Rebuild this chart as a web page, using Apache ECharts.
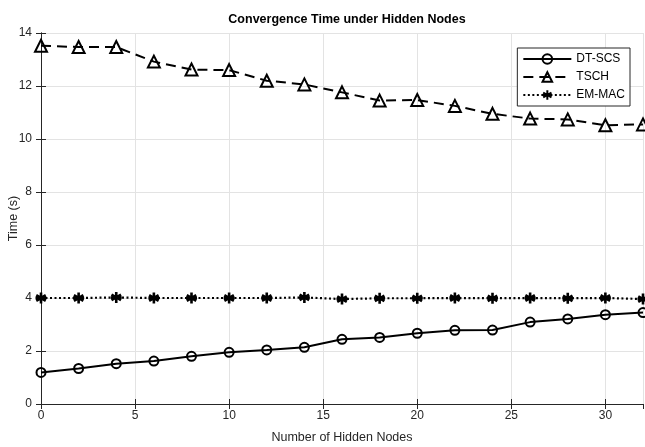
<!DOCTYPE html>
<html>
<head>
<meta charset="utf-8">
<script src="https://cdn.jsdelivr.net/npm/echarts@6/dist/echarts.min.js"></script>
<style>
html,body{margin:0;padding:0;background:#fff;}
#c{width:645px;height:447px;}
</style>
</head>
<body>
<div id="c"></div>
<script>
var nodes = [0,2,4,6,8,10,12,14,16,18,20,22,24,26,28,30,32];
var dtscs = [1.19,1.34,1.52,1.62,1.80,1.95,2.04,2.14,2.44,2.51,2.67,2.78,2.79,3.09,3.21,3.37,3.45];
var tsch  = [13.52,13.47,13.47,12.92,12.62,12.60,12.20,12.06,11.76,11.45,11.47,11.25,10.95,10.77,10.74,10.52,10.55];
var emmac = [4.00,4.00,4.02,4.00,4.00,4.00,4.00,4.02,3.96,3.99,3.99,4.00,3.99,4.00,3.99,4.00,3.96];
var seriesNames = ['DT-SCS','TSCH','EM-MAC'];
var titleText = 'Convergence Time under Hidden Nodes';
var xName = 'Number of Hidden Nodes';
var yName = 'Time (s)';

function pairs(ys){ return nodes.map(function(x,i){ return [x, ys[i]]; }); }

var FONT = "'Liberation Sans', Arial, Helvetica, sans-serif";
var AX = '#262626';
var asterisk = 'path://M5,0 L5,10 M0.67,2.5 L9.33,7.5 M0.67,7.5 L9.33,2.5 M0,5 L10,5';

var chart = echarts.init(document.getElementById('c'), null, {renderer:'canvas'});
var axisCommon = {
  axisLine:{show:true, lineStyle:{color:AX, width:1}},
  axisTick:{show:true, inside:true, length:5, lineStyle:{color:AX, width:1}}
};
chart.setOption({
  animation:false,
  backgroundColor:'#fff',
  title:{text:titleText, left:342, textAlign:'center', top:8,
    textStyle:{fontFamily:FONT, fontSize:12.5, fontWeight:'bold', color:'#000'}},
  grid:{left:41, right:2, top:33, bottom:43, containLabel:false, outerBoundsMode:'none'},
  legend:{
    orient:'vertical', right:15, top:48,
    padding:[5,5,5,5], itemGap:6, itemWidth:48, itemHeight:12,
    backgroundColor:'#fff', borderColor:AX, borderWidth:1,
    textStyle:{fontFamily:FONT, fontSize:12, color:'#000'},
    data:seriesNames
  },
  xAxis:[
    Object.assign({type:'value', min:0, max:32, interval:5, position:'bottom',
      name:xName, nameLocation:'middle', nameGap:27, nameMoveOverlap:false,
      nameTextStyle:{fontFamily:FONT, fontSize:12.5, color:AX},
      axisLabel:{fontFamily:FONT, fontSize:12, color:AX, margin:6, showMaxLabel:false},
      splitLine:{show:true, lineStyle:{color:'#e3e3e3', width:1}}}, axisCommon),
    Object.assign({type:'value', min:0, max:32, interval:5, position:'top',
      axisLabel:{show:false}, splitLine:{show:false}}, axisCommon)
  ],
  yAxis:[
    Object.assign({type:'value', min:0, max:14, interval:2, position:'left',
      name:yName, nameLocation:'middle', nameGap:21, nameMoveOverlap:false,
      nameTextStyle:{fontFamily:FONT, fontSize:12.5, color:AX},
      axisLabel:{fontFamily:FONT, fontSize:12, color:AX, margin:9},
      splitLine:{show:true, lineStyle:{color:'#e3e3e3', width:1}}}, axisCommon),
    Object.assign({type:'value', min:0, max:14, interval:2, position:'right',
      axisLabel:{show:false}, splitLine:{show:false}}, axisCommon)
  ],
  series:[
    {name:seriesNames[0], type:'line', data:pairs(dtscs), xAxisIndex:0, yAxisIndex:0,
      symbol:'circle', symbolSize:9, showAllSymbol:true, clip:false,
      lineStyle:{color:'#000', width:2, type:'solid'},
      itemStyle:{color:'rgba(0,0,0,0)', borderColor:'#000', borderWidth:2},
      emphasis:{disabled:true}, z:3},
    {name:seriesNames[1], type:'line', data:pairs(tsch), xAxisIndex:0, yAxisIndex:0,
      symbol:'triangle', symbolSize:12, showAllSymbol:true, clip:false,
      lineStyle:{color:'#000', width:2, type:[10,6]},
      itemStyle:{color:'rgba(0,0,0,0)', borderColor:'#000', borderWidth:2},
      emphasis:{disabled:true}, z:3},
    {name:seriesNames[2], type:'line', data:pairs(emmac), xAxisIndex:0, yAxisIndex:0,
      symbol:asterisk, symbolSize:11, showAllSymbol:true, clip:false,
      lineStyle:{color:'#000', width:2.2, type:[2,2.5]},
      itemStyle:{color:'#000', borderColor:'#000', borderWidth:2.6},
      emphasis:{disabled:true}, z:3}
  ]
});
</script>
</body>
</html>
